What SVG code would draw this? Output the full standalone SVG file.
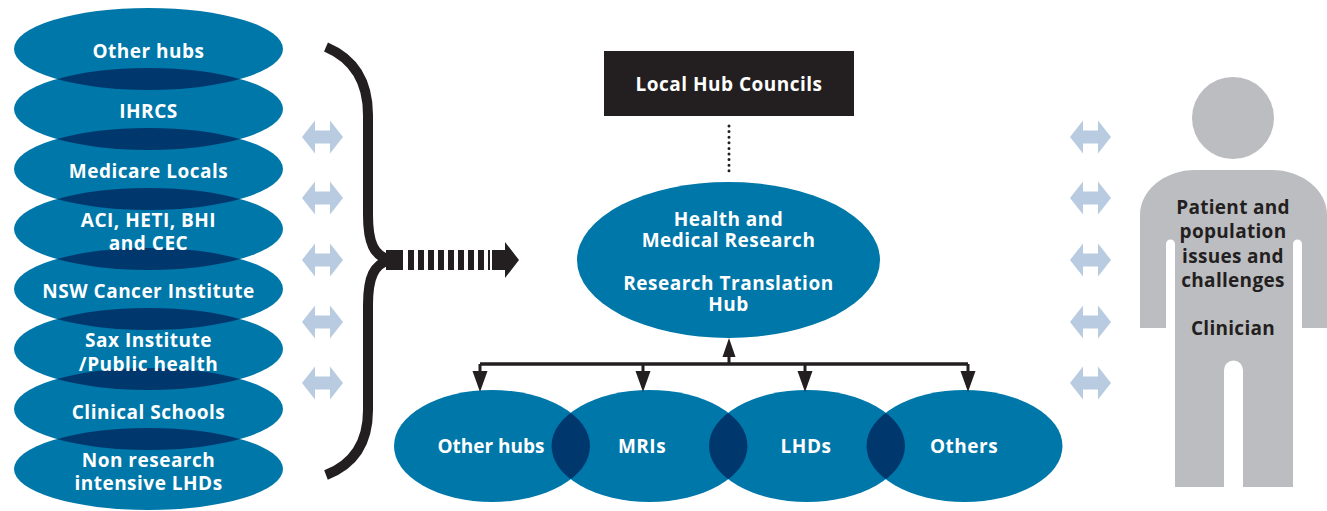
<svg xmlns="http://www.w3.org/2000/svg" xmlns:xlink="http://www.w3.org/1999/xlink" width="1327" height="511" viewBox="0 0 1327 511">
<style>
.blue{fill:#0077a9}
.dark{fill:#00376d}
.wt{fill:#ffffff;font-family:"Open Sans","Liberation Sans",sans-serif;font-weight:bold;font-size:19px;letter-spacing:0.5px;text-anchor:middle}
.bt{fill:#231f20;font-family:"Open Sans","Liberation Sans",sans-serif;font-weight:bold;font-size:19px;letter-spacing:0.3px;text-anchor:middle}
.ink{stroke:#231f20;fill:none}
.inkf{fill:#231f20}
.dbl{fill:#b8cbe1}
.grey{fill:#bcbdc0}
</style>
<defs>
<path id="dblarrow" d="M-20.5,0 L-7.5,-16.5 V-6.5 H7.5 V-16.5 L20.5,0 L7.5,16.5 V6.5 H-7.5 V16.5 Z"/>
<ellipse id="L1" cx="148.5" cy="49" rx="134.5" ry="41"/>
<ellipse id="L2" cx="148.5" cy="109" rx="134.5" ry="41"/>
<ellipse id="L3" cx="148.5" cy="169" rx="134.5" ry="41"/>
<ellipse id="L4" cx="148.5" cy="229" rx="134.5" ry="41"/>
<ellipse id="L5" cx="148.5" cy="289" rx="134.5" ry="41"/>
<ellipse id="L6" cx="148.5" cy="349" rx="134.5" ry="41"/>
<ellipse id="L7" cx="148.5" cy="409" rx="134.5" ry="41"/>
<ellipse id="L8" cx="148.5" cy="469" rx="134.5" ry="41"/>
<ellipse id="B1" cx="492" cy="446" rx="98" ry="56"/>
<ellipse id="B2" cx="649.5" cy="446" rx="98" ry="56"/>
<ellipse id="B3" cx="807" cy="446" rx="98" ry="56"/>
<ellipse id="B4" cx="964.5" cy="446" rx="98" ry="56"/>
<clipPath id="cL1"><use xlink:href="#L1"/></clipPath>
<clipPath id="cL2"><use xlink:href="#L2"/></clipPath>
<clipPath id="cL3"><use xlink:href="#L3"/></clipPath>
<clipPath id="cL4"><use xlink:href="#L4"/></clipPath>
<clipPath id="cL5"><use xlink:href="#L5"/></clipPath>
<clipPath id="cL6"><use xlink:href="#L6"/></clipPath>
<clipPath id="cL7"><use xlink:href="#L7"/></clipPath>
<clipPath id="cB1"><use xlink:href="#B1"/></clipPath>
<clipPath id="cB2"><use xlink:href="#B2"/></clipPath>
<clipPath id="cB3"><use xlink:href="#B3"/></clipPath>
</defs>

<g id="left-stack">
<use xlink:href="#L1" class="blue"/>
<use xlink:href="#L2" class="blue"/>
<use xlink:href="#L3" class="blue"/>
<use xlink:href="#L4" class="blue"/>
<use xlink:href="#L5" class="blue"/>
<use xlink:href="#L6" class="blue"/>
<use xlink:href="#L7" class="blue"/>
<use xlink:href="#L8" class="blue"/>
<use xlink:href="#L2" class="dark" clip-path="url(#cL1)"/>
<use xlink:href="#L3" class="dark" clip-path="url(#cL2)"/>
<use xlink:href="#L4" class="dark" clip-path="url(#cL3)"/>
<use xlink:href="#L5" class="dark" clip-path="url(#cL4)"/>
<use xlink:href="#L6" class="dark" clip-path="url(#cL5)"/>
<use xlink:href="#L7" class="dark" clip-path="url(#cL6)"/>
<use xlink:href="#L8" class="dark" clip-path="url(#cL7)"/>
</g>
<g id="node-other-hubs-left"><text class="wt" x="148.5" y="58">Other hubs</text></g>
<g id="node-ihrcs"><text class="wt" x="148.5" y="118">IHRCS</text></g>
<g id="node-medicare"><text class="wt" x="148.5" y="178">Medicare Locals</text></g>
<g id="node-aci"><text class="wt" x="148.5" y="227">ACI, HETI, BHI</text><text class="wt" x="148.5" y="250">and CEC</text></g>
<g id="node-nsw"><text class="wt" x="148.5" y="298">NSW Cancer Institute</text></g>
<g id="node-sax"><text class="wt" x="148.5" y="347">Sax Institute</text><text class="wt" x="148.5" y="371">/Public health</text></g>
<g id="node-clinical"><text class="wt" x="148.5" y="419">Clinical Schools</text></g>
<g id="node-nonresearch"><text class="wt" x="148.5" y="467">Non research</text><text class="wt" x="148.5" y="490">intensive LHDs</text></g>

<g id="node-local-hub-councils">
<rect x="604" y="51" width="250" height="65" class="inkf"/>
<text class="wt" x="729" y="91">Local Hub Councils</text>
</g>

<g id="node-hub">
<ellipse cx="728.5" cy="260" rx="151.5" ry="78" class="blue"/>
<text class="wt" x="728.5" y="226">Health and</text>
<text class="wt" x="728.5" y="247">Medical Research</text>
<text class="wt" x="728.5" y="290">Research Translation</text>
<text class="wt" x="728.5" y="311">Hub</text>
</g>

<g id="bottom-row">
<use xlink:href="#B1" class="blue"/>
<use xlink:href="#B2" class="blue"/>
<use xlink:href="#B3" class="blue"/>
<use xlink:href="#B4" class="blue"/>
<use xlink:href="#B2" class="dark" clip-path="url(#cB1)"/>
<use xlink:href="#B3" class="dark" clip-path="url(#cB2)"/>
<use xlink:href="#B4" class="dark" clip-path="url(#cB3)"/>
</g>
<g id="node-other-hubs-bottom"><text class="wt" x="491" y="453" style="letter-spacing:0">Other hubs</text></g>
<g id="node-mris"><text class="wt" x="642" y="453">MRIs</text></g>
<g id="node-lhds"><text class="wt" x="806" y="453">LHDs</text></g>
<g id="node-others"><text class="wt" x="964" y="453">Others</text></g>

<g id="node-person">
<circle cx="1233" cy="118" r="41" class="grey"/>
<path class="grey" d="M1140,328 V215 A55,45 0 0 1 1195,170 H1272 A55,45 0 0 1 1327,215 V328 H1302 V244 A4.5,4.5 0 0 0 1293,244 V487 H1243 V370 A9.5,9.5 0 0 0 1224,370 V487 H1175 V244 A4.5,4.5 0 0 0 1166,244 V328 Z"/>
<text class="bt" x="1233" y="214">Patient and</text>
<text class="bt" x="1233" y="238">population</text>
<text class="bt" x="1233" y="263">issues and</text>
<text class="bt" x="1233" y="287">challenges</text>
<text class="bt" x="1233" y="335">Clinician</text>
</g>

<g id="connectors">
<path class="ink" stroke-width="10" d="M326,47 C352,58 368,80 368,115 V215 C368,243 374,256 390,260 C374,264 368,277 368,305 V410 C368,445 352,465 326,475"/>
<rect x="386" y="250" width="17" height="20" class="inkf"/>
<line class="ink" x1="408" y1="260" x2="490" y2="260" stroke-width="20" stroke-dasharray="6 4"/>
<polygon class="inkf" points="492,250 505,250 505,242 519,260 505,278 505,270 492,270"/>
<use xlink:href="#dblarrow" class="dbl" x="322.5" y="137"/>
<use xlink:href="#dblarrow" class="dbl" x="322.5" y="198"/>
<use xlink:href="#dblarrow" class="dbl" x="322.5" y="260"/>
<use xlink:href="#dblarrow" class="dbl" x="322.5" y="322"/>
<use xlink:href="#dblarrow" class="dbl" x="322.5" y="383"/>
<use xlink:href="#dblarrow" class="dbl" x="1090.5" y="137"/>
<use xlink:href="#dblarrow" class="dbl" x="1090.5" y="198"/>
<use xlink:href="#dblarrow" class="dbl" x="1090.5" y="260"/>
<use xlink:href="#dblarrow" class="dbl" x="1090.5" y="322"/>
<use xlink:href="#dblarrow" class="dbl" x="1090.5" y="383"/>
<line class="ink" x1="729" y1="126" x2="729" y2="172" stroke-width="3" stroke-linecap="round" stroke-dasharray="0 5.6"/>
<line class="ink" x1="480" y1="364" x2="968" y2="364" stroke-width="3.5"/>
<line class="ink" x1="729" y1="364" x2="729" y2="354" stroke-width="3"/>
<polygon class="inkf" points="722.5,357 729,338 735.5,357"/>
<line class="ink" x1="480" y1="364" x2="480" y2="373" stroke-width="3"/>
<line class="ink" x1="643" y1="364" x2="643" y2="373" stroke-width="3"/>
<line class="ink" x1="805" y1="364" x2="805" y2="373" stroke-width="3"/>
<line class="ink" x1="968" y1="364" x2="968" y2="373" stroke-width="3"/>
<polygon class="inkf" points="472.5,371 480,392 487.5,371"/>
<polygon class="inkf" points="635.5,371 643,392 650.5,371"/>
<polygon class="inkf" points="797.5,371 805,392 812.5,371"/>
<polygon class="inkf" points="960.5,371 968,392 975.5,371"/>
</g>
</svg>
